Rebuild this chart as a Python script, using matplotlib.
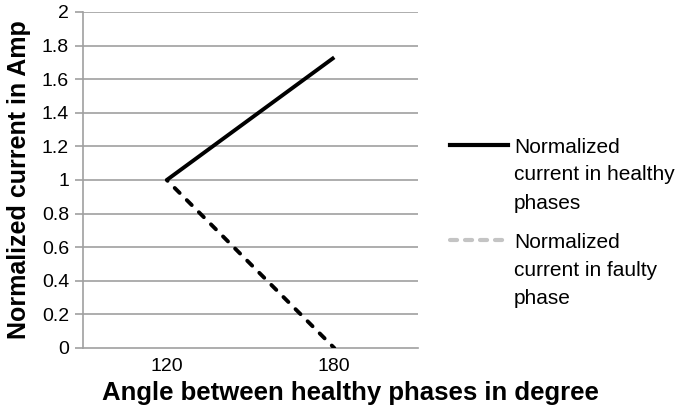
import matplotlib
matplotlib.use("Agg")
import matplotlib.pyplot as plt
from matplotlib.lines import Line2D

plt.rcParams['font.family'] = ['Liberation Sans', 'DejaVu Sans']

# data
angles = ["120", "180"]
healthy = [1.0, 1.73]
faulty = [1.0, 0.0]
yticks = [0, 0.2, 0.4, 0.6, 0.8, 1, 1.2, 1.4, 1.6, 1.8, 2]
ytick_labels = ["0", "0.2", "0.4", "0.6", "0.8", "1", "1.2", "1.4", "1.6", "1.8", "2"]
labels = [["Normalized", "current in healthy", "phases"],
          ["Normalized", "current in faulty", "phase"]]

W, H = 679, 409
fig = plt.figure(figsize=(W / 100, H / 100), dpi=100)
ax = fig.add_axes([83 / W, 1 - 348 / H, (418 - 83) / W, (348 - 12) / H])

x = range(len(angles))
ax.plot(x, healthy, color="black", lw=2.8, solid_capstyle="butt", zorder=3)
ax.plot(x, faulty, color="black", lw=2.8, ls=(1.5, (1.8, 2.6)), dash_capstyle="round", zorder=3)

ax.set_xlim(-0.5, 1.5)
ax.set_ylim(0, 2)
ax.set_xticks(list(x))
ax.set_xticklabels(angles, fontsize=14)
ax.set_yticks(yticks)
ax.set_yticklabels(ytick_labels, fontsize=14)
ax.tick_params(axis="x", length=0, pad=7)
ax.tick_params(axis="y", length=6, width=1.2, color="#a0a0a0", pad=4)

for y in yticks[1:]:
    ax.axhline(y, color="#a0a0a0", lw=1.2, zorder=1)

for s in ["top", "right"]:
    ax.spines[s].set_visible(False)
ax.spines["left"].set_color("#a0a0a0")
ax.spines["bottom"].set_color("#a0a0a0")
ax.spines["left"].set_linewidth(1.2)
ax.spines["bottom"].set_linewidth(1.2)

fig.text(350 / W, 1 - 393 / H, "Angle between healthy phases in degree",
         fontsize=18.5, fontweight="bold", ha="center", va="center")
ax.set_ylabel("Normalized current in Amp", fontsize=18, fontweight="bold", labelpad=8)

# legend drawn by hand so the handle lines up with the first text line
legend_styles = [dict(color="black", lw=3),
                 dict(color="#c4c4c4", lw=3, ls=(0, (1.7, 1.9)), dash_capstyle="round")]
legend_y = [145, 240]
for lines, st, ly in zip(labels, legend_styles, legend_y):
    yy = 1 - ly / H
    fig.add_artist(Line2D([450 / W, 508 / W], [yy, yy], transform=fig.transFigure, **st))
    for i, t in enumerate(lines):
        fig.text(514 / W, 1 - (ly + 7.5 + 28 * i) / H, t, fontsize=15, va="baseline", ha="left")

fig.savefig("out.png", dpi=100)
